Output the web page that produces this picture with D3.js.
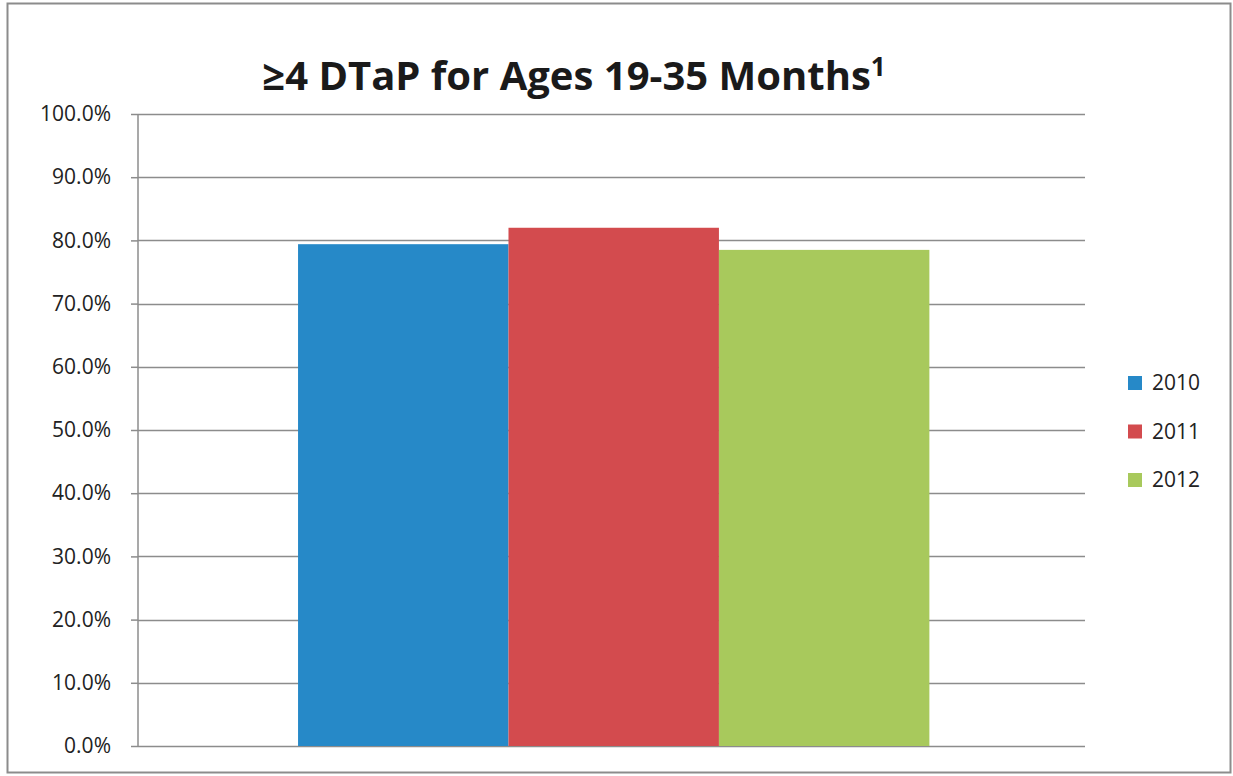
<!DOCTYPE html>
<html>
<head>
<meta charset="utf-8">
<script src="https://cdn.jsdelivr.net/npm/d3@7"></script>
<style>
  body { margin: 0; background: #fff; }
  svg { display: block; }
</style>
</head>
<body>
<svg id="chart" width="1233" height="776"></svg>
<script>
// data
var categories = ["≥4 DTaP"];
var years = ["2010", "2011", "2012"];
var values = [0.794, 0.820, 0.785];
var colors = ["#2689c8", "#d34b4e", "#a8c95c"];
var yTicks = [0, 0.1, 0.2, 0.3, 0.4, 0.5, 0.6, 0.7, 0.8, 0.9, 1.0];

var svg = d3.select("#chart");
var plotLeft = 138, plotRight = 1085, plotTop = 114, plotBottom = 746;

// outer frame
svg.append("rect")
    .attr("x", 7.5).attr("y", 3.5)
    .attr("width", 1223).attr("height", 769)
    .attr("fill", "#fff")
    .attr("stroke", "#8c8c8c")
    .attr("stroke-width", 2);

var x0 = d3.scaleBand().domain(categories).range([plotLeft, plotRight]).padding(0.2).align(0.507);
var x1 = d3.scaleBand().domain(years).range([0, x0.bandwidth()]);
var y = d3.scaleLinear().domain([0, 1]).range([plotBottom, plotTop]);

// gridlines
svg.append("g")
    .selectAll("line")
    .data(yTicks)
    .enter().append("line")
        .attr("x1", plotLeft).attr("x2", plotRight)
        .attr("y1", function(d) { return Math.round(y(d)) + 0.5; })
        .attr("y2", function(d) { return Math.round(y(d)) + 0.5; })
        .attr("stroke", "#8c8c8c")
        .attr("stroke-width", 1.5);

// bars
var rows = years.map(function(yr, i) { return {year: yr, value: values[i], color: colors[i]}; });
svg.append("g")
    .selectAll("rect")
    .data(rows)
    .enter().append("rect")
        .attr("x", function(d) { return x0(categories[0]) + x1(d.year); })
        .attr("width", x1.bandwidth())
        .attr("y", function(d) { return y(d.value); })
        .attr("height", function(d) { return y(0) - y(d.value); })
        .attr("fill", function(d) { return d.color; });

// y axis
var yAxis = svg.append("g")
    .attr("transform", "translate(" + plotLeft + ",0)")
    .call(d3.axisLeft(y).tickValues(yTicks).tickFormat(d3.format(".1%")).tickSize(7).tickPadding(20));
yAxis.select(".domain").attr("stroke", "#8c8c8c").attr("stroke-width", 1.5)
    .attr("d", "M0," + plotTop + "V" + plotBottom);
yAxis.selectAll(".tick line").attr("stroke", "#8c8c8c").attr("stroke-width", 1.5);
yAxis.selectAll(".tick text")
    .attr("font-family", "'Open Sans', sans-serif")
    .attr("font-size", 21)
    .attr("fill", "#222");

// title
var title = svg.append("text")
    .attr("x", 574).attr("y", 90)
    .attr("text-anchor", "middle")
    .attr("font-family", "'Open Sans', sans-serif")
    .attr("font-weight", "bold")
    .attr("font-size", 40)
    .attr("fill", "#1a1a1a");
title.append("tspan").text("≥4 DTaP for Ages 19-35 Months");
title.append("tspan").attr("dy", -14).attr("font-size", 26).text("1");

// legend
var legend = svg.append("g")
    .selectAll("g")
    .data(rows)
    .enter().append("g")
        .attr("transform", function(d, i) { return "translate(1128," + (376 + i * 48.5) + ")"; });
legend.append("rect")
    .attr("width", 14).attr("height", 14)
    .attr("fill", function(d) { return d.color; });
legend.append("text")
    .attr("x", 24).attr("y", 14)
    .attr("font-family", "'Open Sans', sans-serif")
    .attr("font-size", 21)
    .attr("fill", "#222")
    .text(function(d) { return d.year; });
</script>
</body>
</html>
